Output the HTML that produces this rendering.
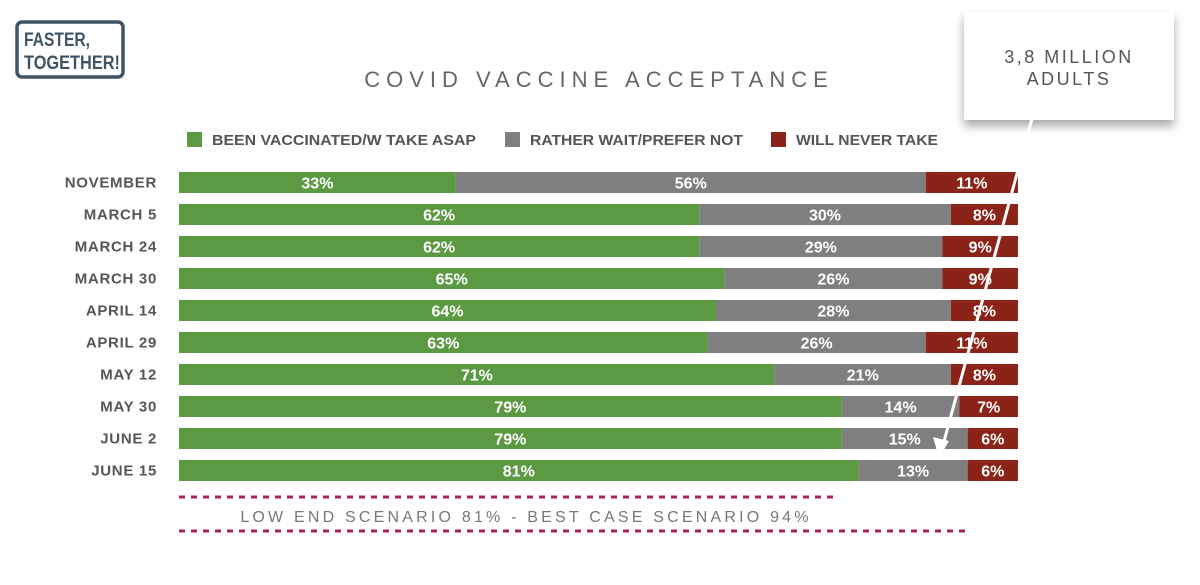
<!DOCTYPE html>
<html><head><meta charset="utf-8"><style>
body{margin:0;background:#fff;width:1200px;height:580px;overflow:hidden;font-family:"Liberation Sans",sans-serif}
svg text{font-family:"Liberation Sans",sans-serif}
</style></head><body>
<svg id="chart" width="1200" height="580">
<defs>
<filter id="sh" x="-20%" y="-20%" width="140%" height="160%"><feDropShadow dx="0" dy="6" stdDeviation="5" flood-color="#000" flood-opacity="0.35"/></filter>
</defs>
<g>
<rect x="17" y="22" width="106" height="55" rx="5" fill="none" stroke="#3f5566" stroke-width="3.5"/>
<text x="24" y="46" font-size="19" font-weight="bold" fill="#3f5566" textLength="66" lengthAdjust="spacingAndGlyphs">FASTER,</text>
<text x="24" y="69" font-size="19" font-weight="bold" fill="#3f5566" textLength="96" lengthAdjust="spacingAndGlyphs">TOGETHER!</text>
</g>
<text x="599" y="87" text-anchor="middle" font-size="22" fill="#666" letter-spacing="6">COVID VACCINE ACCEPTANCE</text>
<g>
<rect x="187" y="132" width="15" height="15" fill="#5b9a42"/>
<text x="212" y="145" font-size="15" font-weight="bold" fill="#555" textLength="264" lengthAdjust="spacingAndGlyphs">BEEN VACCINATED/W TAKE ASAP</text>
<rect x="505" y="132" width="15" height="15" fill="#7f7f7f"/>
<text x="530" y="145" font-size="15" font-weight="bold" fill="#555" textLength="213" lengthAdjust="spacingAndGlyphs">RATHER WAIT/PREFER NOT</text>
<rect x="771" y="132" width="15" height="15" fill="#8b2318"/>
<text x="796" y="145" font-size="15" font-weight="bold" fill="#555" textLength="142" lengthAdjust="spacingAndGlyphs">WILL NEVER TAKE</text>
</g>
<g id="bars"></g>
<line x1="179" y1="497" x2="838" y2="497" stroke="#a3245e" stroke-width="3" stroke-dasharray="6,6"/>
<text x="526" y="522" text-anchor="middle" font-size="16" fill="#777" letter-spacing="3.2">LOW END SCENARIO 81% - BEST CASE SCENARIO 94%</text>
<line x1="179" y1="531" x2="970" y2="531" stroke="#a3245e" stroke-width="3" stroke-dasharray="6,6"/>
<g>
<rect x="964" y="12" width="210" height="108" fill="#fff" filter="url(#sh)"/>
<text x="1069" y="63" text-anchor="middle" font-size="18" fill="#555" letter-spacing="2.5">3,8 MILLION</text>
<text x="1069" y="85" text-anchor="middle" font-size="18" fill="#555" letter-spacing="2.5">ADULTS</text>
<line x1="1033" y1="115" x2="943" y2="445" stroke="#fff" stroke-width="3"/>
<polygon points="939,458 933,437 949,441" fill="#fff"/>
</g>
</svg>
<script>
const categories=["NOVEMBER","MARCH 5","MARCH 24","MARCH 30","APRIL 14","APRIL 29","MAY 12","MAY 30","JUNE 2","JUNE 15"];
const vaccinated=[33,62,62,65,64,63,71,79,79,81];
const wait=[56,30,29,26,28,26,21,14,15,13];
const never=[11,8,9,9,8,11,8,7,6,6];
const X0=179,W=839,Y0=172,PITCH=32,H=21;
const x=v=>X0+v/100*W;
const y=i=>Y0+i*PITCH;
const g=document.getElementById('bars');
const NS='http://www.w3.org/2000/svg';
function mk(t,a){const e=document.createElementNS(NS,t);for(const k in a)e.setAttribute(k,a[k]);g.appendChild(e);return e;}
categories.forEach((c,i)=>{
  const lab=mk('text',{x:157,y:y(i)+H/2+5,'text-anchor':'end','font-size':15,'font-weight':'bold',fill:'#555','letter-spacing':0.7});
  lab.textContent=c;
  
  
  const tot=vaccinated[i]+wait[i]+never[i];
  const segs=[[vaccinated[i],'#5b9a42','bar-vaccinated'],[wait[i],'#7f7f7f','bar-wait'],[never[i],'#8b2318','bar-never']];
  let acc=0;
  segs.forEach(([v,col,nm])=>{
    const v2=v/tot*100;
    const r=mk('rect',{x:x(acc),y:y(i),width:x(acc+v2)-x(acc),height:H,fill:col});
    
    
    const t=mk('text',{x:(x(acc)+x(acc+v2))/2,y:y(i)+H/2+6,'text-anchor':'middle','font-size':16,'font-weight':'bold',fill:'#fff'});
    t.textContent=v+'%';
    
    
    acc+=v2;
  });
});
</script>
</body></html>
